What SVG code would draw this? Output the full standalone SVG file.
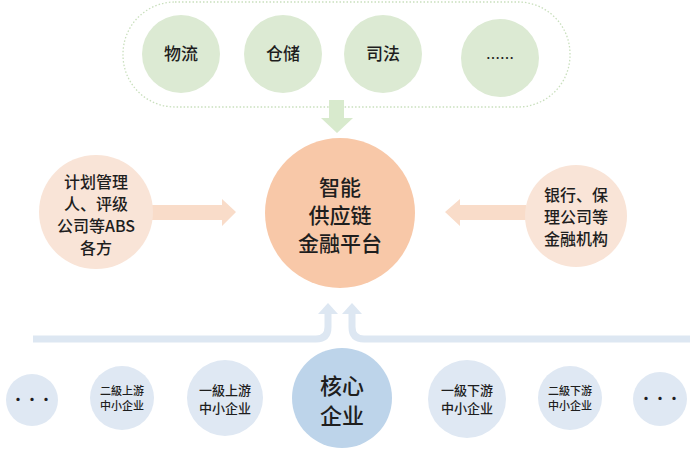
<svg xmlns="http://www.w3.org/2000/svg" width="693" height="451" viewBox="0 0 693 451">
<style>
.t{font-family:"Noto Sans CJK SC","Noto Sans CJK JP",sans-serif;fill:#1e1e1e;text-anchor:middle;font-weight:500}
.g{fill:#dcead3}
.pk{fill:#f9e4d7}
.bl{fill:#dfe8f3}
.bline{fill:none;stroke:#dde7f2;stroke-width:7}
.bhead{fill:#dde7f2}
</style>
<rect width="693" height="451" fill="#ffffff"/>
<g id="connectors">
  <rect x="123" y="2" width="447" height="105" rx="52" ry="52" fill="none" stroke="#c9dfbd" stroke-width="1.3" stroke-dasharray="1.5 2"/>
  <polygon points="329,100 344,100 344,118 353,118 337,133 321,118 329,118" fill="#d8eacd"/>
  <polygon points="150,205 222,205 222,199 236,212 222,226 222,220 150,220" fill="#f9dcc9"/>
  <polygon points="526,205 460,205 460,199 445,212 460,226 460,220 526,220" fill="#f9dcc9"/>
  <path class="bline" d="M33 339 H316 Q328 339 328 327 V311"/>
  <polygon class="bhead" points="328,303 338,314 318,314"/>
  <path class="bline" d="M690 339 H364 Q352 339 352 327 V311"/>
  <polygon class="bhead" points="352,303 362,314 342,314"/>
</g>
<g id="n-wuliu"><circle class="g" cx="181" cy="54" r="39"/><text class="t" x="181" y="60" font-size="17">物流</text></g>
<g id="n-cangchu"><circle class="g" cx="283" cy="54" r="39"/><text class="t" x="283" y="60" font-size="17">仓储</text></g>
<g id="n-sifa"><circle class="g" cx="383" cy="54" r="39"/><text class="t" x="383" y="60" font-size="17">司法</text></g>
<g id="n-more-top"><circle class="g" cx="500" cy="58" r="39"/><text class="t" x="500" y="63" font-size="14">……</text></g>
<g id="n-platform"><circle cx="340" cy="213" r="75" fill="#f8c8a8"/>
  <text class="t" font-size="21"><tspan x="340" y="195">智能</tspan><tspan x="340" y="223">供应链</tspan><tspan x="340" y="251">金融平台</tspan></text></g>
<g id="n-abs"><circle class="pk" cx="96" cy="212" r="57"/>
  <text class="t" font-size="16"><tspan x="96" y="188">计划管理</tspan><tspan x="96" y="210">人、评级</tspan><tspan x="96" y="232">公司等ABS</tspan><tspan x="96" y="254">各方</tspan></text></g>
<g id="n-bank"><circle class="pk" cx="576" cy="216" r="51"/>
  <text class="t" font-size="16"><tspan x="576" y="201">银行、保</tspan><tspan x="576" y="223">理公司等</tspan><tspan x="576" y="245">金融机构</tspan></text></g>
<g id="n-more-left"><circle class="bl" cx="32" cy="400" r="26"/><text class="t" x="32" y="404" font-size="14" font-weight="bold">···</text></g>
<g id="n-up2"><circle class="bl" cx="122" cy="398" r="32"/>
  <text class="t" font-size="11"><tspan x="122" y="395">二級上游</tspan><tspan x="122" y="410">中小企业</tspan></text></g>
<g id="n-up1"><circle class="bl" cx="225" cy="398" r="38"/>
  <text class="t" font-size="13"><tspan x="225" y="395">一級上游</tspan><tspan x="225" y="413">中小企业</tspan></text></g>
<g id="n-core"><circle cx="342" cy="398" r="50" fill="#bdd4ea"/>
  <text class="t" font-size="22"><tspan x="342" y="394">核心</tspan><tspan x="342" y="424">企业</tspan></text></g>
<g id="n-down1"><circle class="bl" cx="467" cy="399" r="39"/>
  <text class="t" font-size="13"><tspan x="467" y="395">一級下游</tspan><tspan x="467" y="413">中小企业</tspan></text></g>
<g id="n-down2"><circle class="bl" cx="570" cy="398" r="32"/>
  <text class="t" font-size="11"><tspan x="570" y="395">二級下游</tspan><tspan x="570" y="410">中小企业</tspan></text></g>
<g id="n-more-right"><circle class="bl" cx="660" cy="399" r="27"/><text class="t" x="660" y="403" font-size="14" font-weight="bold">···</text></g>
</svg>
